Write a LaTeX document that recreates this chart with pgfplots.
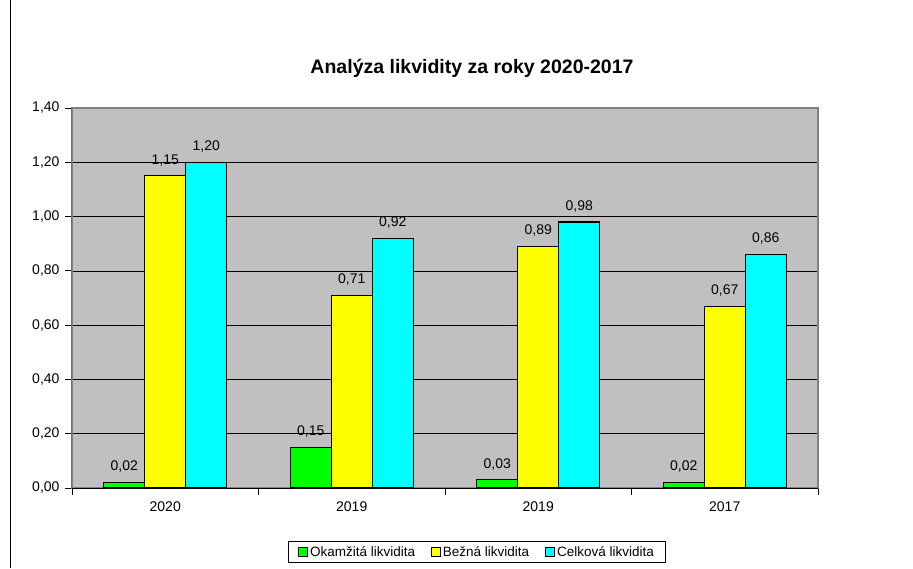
\documentclass[border=0pt]{standalone}
\usepackage{fontspec}
\setmainfont{Liberation Sans}
\usepackage{pgfplots}
\pgfplotsset{compat=1.18}
\definecolor{plotgray}{HTML}{C0C0C0}
\definecolor{bordergray}{HTML}{808080}
\definecolor{okgreen}{HTML}{00FF00}
\definecolor{bezyellow}{HTML}{FFFF00}
\definecolor{celcyan}{HTML}{00FFFF}

\begin{document}
\begin{tikzpicture}[x=1pt,y=1pt]
\useasboundingbox (0,0) rectangle (913,568);
\draw[black, line width=0.8pt] (10,0) -- (10,568);
\node[font=\bfseries\fontsize{19.5}{23}\selectfont] at (472,500) {Analýza likvidity za roky 2020-2017};
\begin{axis}[
    at={(72pt,80pt)}, anchor=south west,
    scale only axis, width=746pt, height=380pt,
    ybar=0pt, bar width=41pt,
    legend image code/.code={\draw[#1, draw=black, line width=0.8pt] (0pt,-4.5pt) rectangle (9pt,4.5pt);},
    xmin=-0.5, xmax=3.5, ymin=0, ymax=1.4,
    xtick={-0.5,0.5,1.5,2.5,3.5},
    x tick label as interval,
    xticklabels={2020,2019,2019,2017},
    ytick={0,0.2,0.4,0.6,0.8,1.0,1.2,1.4},
    xtick pos=bottom, ytick pos=left,
    tick align=outside, major tick length=7pt,
    tick style={black, line width=0.8pt},
    ymajorgrids, major grid style={black, line width=0.7pt},
    axis background/.style={fill=plotgray},
    axis line style={draw=bordergray, line width=1.5pt},
    tick label style={font=\fontsize{14}{16}\selectfont},
    y tick label style={xshift=-2pt, /pgf/number format/.cd, fixed, fixed zerofill, precision=2, use comma, assume math mode=true},
    x tick label style={yshift=-3pt},
    nodes near coords,
    nodes near coords style={font=\fontsize{14}{16}\selectfont, yshift=6pt, /pgf/number format/.cd, fixed, fixed zerofill, precision=2, use comma, assume math mode=true},
    legend columns=3,
    legend style={at={(0.543,-0.168)}, anchor=center, draw=black, line width=0.8pt,
        font=\fontsize{13.5}{15}\selectfont, inner xsep=10pt, inner ysep=3pt,
        /tikz/every even column/.append style={column sep=14pt}},
]
\addplot[fill=okgreen, draw=black, line width=1.2pt] coordinates {(0,0.02) (1,0.15) (2,0.03) (3,0.02)};
\addlegendentry{Okamžitá likvidita}
\addplot[fill=bezyellow, draw=black, line width=1.2pt] coordinates {(0,1.15) (1,0.71) (2,0.89) (3,0.67)};
\addlegendentry{Bežná likvidita}
\addplot[fill=celcyan, draw=black, line width=1.2pt] coordinates {(0,1.20) (1,0.92) (2,0.98) (3,0.86)};
\addlegendentry{Celková likvidita}
\draw[black, line width=1pt] (rel axis cs:0,1) -- (rel axis cs:0,0) -- (rel axis cs:1,0);
\end{axis}
\end{tikzpicture}
\end{document}
